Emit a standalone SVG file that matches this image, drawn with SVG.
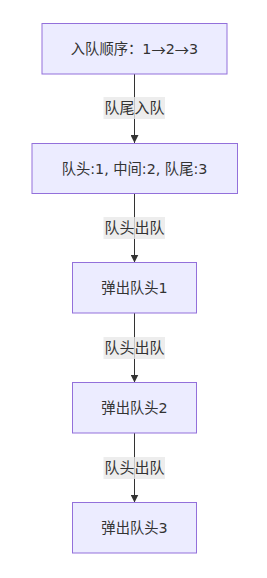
<svg xmlns="http://www.w3.org/2000/svg" width="267" height="578" viewBox="0 0 267 578">
<style>
.node rect{fill:#ECECFF;stroke:#9370DB;stroke-width:1}
.node text,.elabel text{font-family:"DejaVu Sans","Noto Sans CJK SC",sans-serif;font-size:14.3px;fill:#333;text-anchor:middle;dominant-baseline:central}
.elabel text{font-size:15px}
.cjk{font-family:"Noto Sans CJK SC",sans-serif}
.edge{stroke:#333;stroke-width:1;fill:none;marker-end:url(#arr)}
.elabel rect{fill:#e8e8e8;opacity:0.8}
</style>
<defs>
<marker id="arr" viewBox="0 0 10 10" refX="10" refY="5" markerWidth="8" markerHeight="8" markerUnits="userSpaceOnUse" orient="auto">
<path d="M0,0 L10,5 L0,10 z" fill="#333"/>
</marker>
</defs>
<rect width="267" height="578" fill="#fff"/>
<g id="connectors">
<line class="edge" x1="134.5" y1="74" x2="134.5" y2="143"/>
<line class="edge" x1="134.5" y1="193" x2="134.5" y2="262.5"/>
<line class="edge" x1="134.5" y1="313" x2="134.5" y2="382.5"/>
<line class="edge" x1="134.5" y1="433" x2="134.5" y2="502.5"/>
<g class="elabel"><rect x="103.5" y="97" width="61.5" height="22"/><text x="134.5" y="108">队尾入队</text></g>
<g class="elabel"><rect x="103.5" y="217" width="61.5" height="22"/><text x="134.5" y="228">队头出队</text></g>
<g class="elabel"><rect x="103.5" y="337" width="61.5" height="22"/><text x="134.5" y="348">队头出队</text></g>
<g class="elabel"><rect x="103.5" y="457" width="61.5" height="22"/><text x="134.5" y="468">队头出队</text></g>
</g>
<g id="n1" class="node"><rect x="42" y="23.5" width="185" height="50.5"/><text x="134.5" y="48.5">入队顺序：1<tspan class="cjk">→</tspan>2<tspan class="cjk">→</tspan>3</text></g>
<g id="n2" class="node"><rect x="32" y="143.5" width="205.5" height="50"/><text x="134.5" y="168.5">队头:1, 中间:2, 队尾:3</text></g>
<g id="n3" class="node"><rect x="72.5" y="262.5" width="124" height="50.5"/><text x="134.5" y="288">弹出队头1</text></g>
<g id="n4" class="node"><rect x="72.5" y="382.5" width="124" height="50.5"/><text x="134.5" y="408">弹出队头2</text></g>
<g id="n5" class="node"><rect x="72.5" y="502.5" width="124" height="50.5"/><text x="134.5" y="528">弹出队头3</text></g>
</svg>
